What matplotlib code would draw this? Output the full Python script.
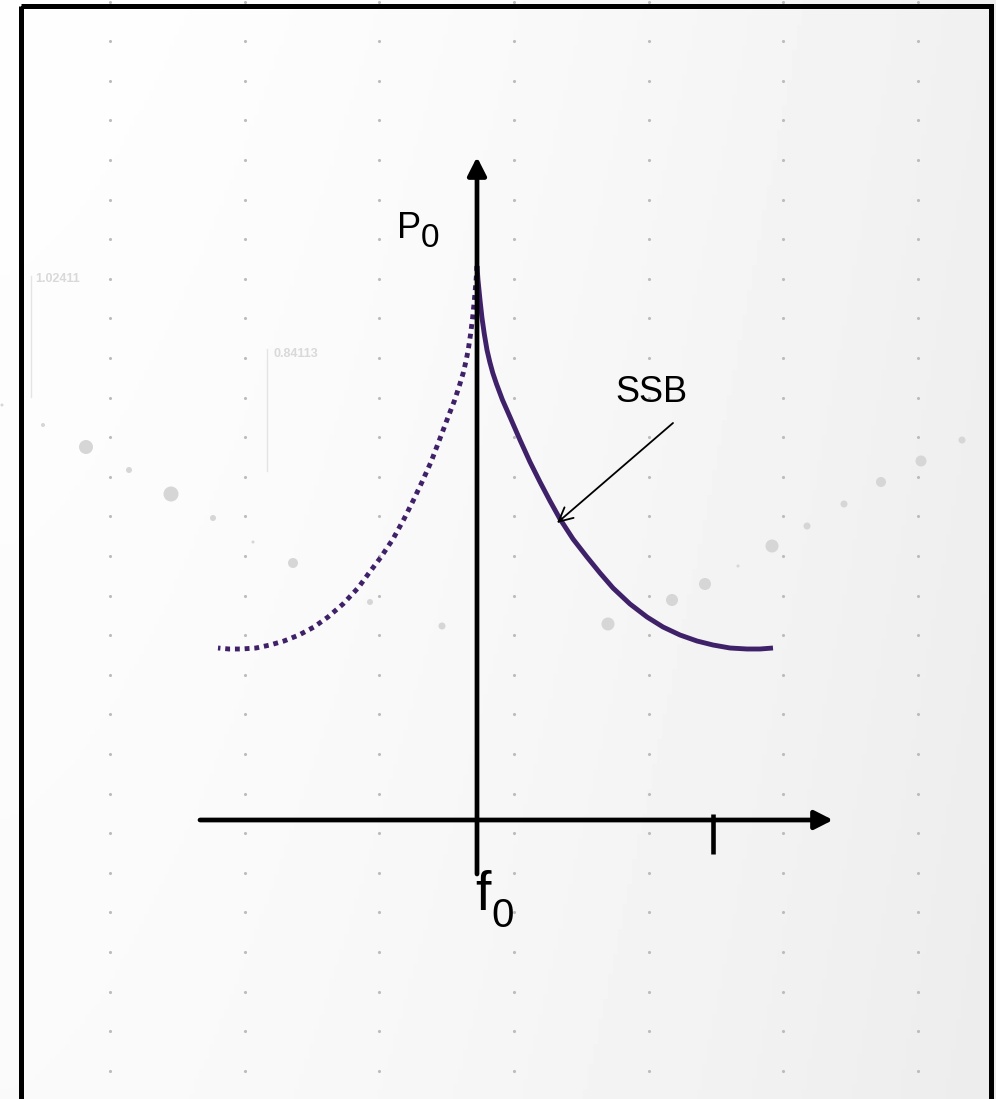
import numpy as np
import matplotlib.pyplot as plt
from matplotlib.patches import Rectangle, Circle

plt.rcParams['font.family'] = ['Liberation Sans', 'DejaVu Sans']

# spectrum around the carrier f0 (offset from f0, relative power)
usb_offset = [0, 0.01, 0.03, 0.05, 0.073, 0.10, 0.128, 0.158, 0.195, 0.255, 0.33, 0.43, 0.53, 0.63,
              0.73, 0.83, 0.96, 1.10, 1.23, 1.36, 1.53, 1.70, 1.86, 2.03, 2.20, 2.36, 2.53, 2.70,
              2.83, 2.96]
lsb_offset = [0, -0.009, -0.026, -0.044, -0.064, -0.088, -0.112, -0.138, -0.171, -0.223, -0.289, -0.376,
              -0.46, -0.55, -0.64, -0.73, -0.84, -0.96, -1.08, -1.19, -1.34, -1.49, -1.63, -1.78,
              -1.93, -2.07, -2.21, -2.36, -2.48, -2.59]
power = [5.54, 5.40, 5.20, 5.02, 4.86, 4.70, 4.58, 4.47, 4.36, 4.20, 4.03, 3.80, 3.58, 3.38,
         3.19, 3.01, 2.81, 2.63, 2.47, 2.32, 2.16, 2.03, 1.93, 1.85, 1.79, 1.75, 1.72, 1.71,
         1.71, 1.72]

x_axis = (-2.77, 3.56)      # frequency axis extent
y_axis = (-0.54, 6.63)      # power axis extent
tick_f = 2.36
ssb_label = (1.38, 4.18)
ssb_from = (1.96, 3.97)
ssb_to = (0.80, 2.97)

# faded background decoration (pixel positions)
grid_cols = [110, 245, 379, 514, 649, 783, 918]
grid_rows = [1.5 + 39.6 * k for k in range(28)]
bubble_x = [86, 171, 293, 608, 672, 705, 772, 881, 921, 129, 213, 807, 844, 962, 370, 442, 43, 253, 738, 2]
bubble_y = [447, 494, 563, 624, 600, 584, 546, 482, 461, 470, 518, 526, 504, 440, 602, 626, 425, 542, 566, 405]
bubble_r = [7, 7.5, 5, 6.5, 6, 6, 6.5, 5, 5.5, 3, 3, 3.5, 3.5, 3.5, 3, 3.5, 2, 1.5, 1.5, 1.5]

W, H = 996, 1099
fig = plt.figure(figsize=(W / 100, H / 100), dpi=100)

bg = fig.add_axes([0, 0, 1, 1])
bg.set_xlim(0, W)
bg.set_ylim(H, 0)
bg.axis('off')
xx, yy = np.meshgrid(np.linspace(0, 1, 200), np.linspace(0, 1, 220))
shade = 254 - 14 * xx ** 1.6 - 4 * yy
bg.imshow(shade, cmap='gray', vmin=0, vmax=255, extent=[0, W, H, 0], aspect='auto', zorder=0)

gx, gy = np.meshgrid(grid_cols, grid_rows)
bg.scatter(gx.ravel(), gy.ravel(), s=5, color='#bcbcbc', linewidths=0, zorder=1)
for bx, by, br in zip(bubble_x, bubble_y, bubble_r):
    bg.add_patch(Circle((bx, by), br, color='#d6d6d6', lw=0, zorder=1))

bg.plot([31, 31], [276, 397], color='#e4e4e4', lw=1, zorder=1)
bg.text(35, 279, '1.02411', color='#d9d9d9', fontsize=9, fontweight='bold', va='center', zorder=1)
bg.plot([267, 267], [349, 471], color='#e4e4e4', lw=1, zorder=1)
bg.text(273, 354, '0.84113', color='#d9d9d9', fontsize=9, fontweight='bold', va='center', zorder=1)

bg.add_patch(Rectangle((20.5, 5.5), 970, 1096, fill=False, ec='black', lw=3.6, zorder=5))

ax = fig.add_axes([0, 0, 1, 1])
ax.patch.set_alpha(0)
ax.set_xlim(-4.77, 5.19)
ax.set_ylim(-2.79, 8.20)
ax.axis('off')

purple = '#3f2169'
ax.plot(usb_offset, power, color=purple, lw=3.5, solid_capstyle='butt', solid_joinstyle='round', zorder=3)
ax.plot(lsb_offset, power, color=purple, lw=3.5, linestyle=(0, (1, 1.0)), zorder=3)

arrow = dict(arrowstyle='-|>,head_length=0.55,head_width=0.28', color='black', lw=3.4,
             shrinkA=0, shrinkB=0, mutation_scale=20)
ax.annotate('', xy=(x_axis[1], 0), xytext=(x_axis[0], 0), arrowprops=arrow, zorder=4)
ax.annotate('', xy=(0, y_axis[1]), xytext=(0, y_axis[0]), arrowprops=arrow, zorder=4)
ax.plot([tick_f, tick_f], [0.06, -0.34], color='black', lw=3.3, solid_capstyle='butt', zorder=4)

ax.text(-0.80, 5.82, 'P', fontsize=26, ha='left', va='baseline')
ax.text(-0.56, 5.73, '0', fontsize=24, ha='left', va='baseline')
ax.text(-0.02, -0.90, 'f', fontsize=40, ha='left', va='baseline')
ax.text(0.14, -1.07, '0', fontsize=29, ha='left', va='baseline')

ax.text(ssb_label[0], ssb_label[1], 'SSB', fontsize=26, ha='left', va='baseline')
ax.annotate('', xy=ssb_to, xytext=ssb_from,
            arrowprops=dict(arrowstyle='->,head_length=0.5,head_width=0.25', color='black', lw=1.3,
                            shrinkA=0, shrinkB=0, mutation_scale=20))

fig.savefig('out.png', dpi=100)
